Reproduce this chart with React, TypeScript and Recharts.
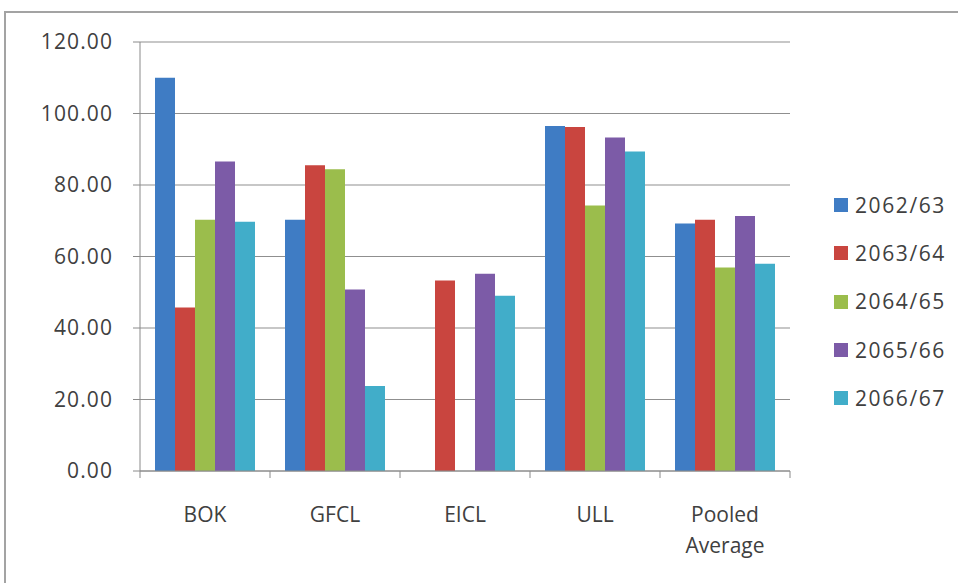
import React from 'react';
import { BarChart, Bar, XAxis, YAxis, CartesianGrid, Legend } from 'recharts';

// Companies compared across fiscal years
const categories = ['BOK', 'GFCL', 'EICL', 'ULL', 'Pooled Average'];
const seriesNames = ['2062/63', '2063/64', '2064/65', '2065/66', '2066/67'];
const seriesColors = ['#3F7CC4', '#C9453F', '#9BBD4C', '#7C5BA7', '#41ADC9'];

const values2062 = [110.0, 70.3, 0, 96.5, 69.2];
const values2063 = [45.7, 85.5, 53.3, 96.2, 70.3];
const values2064 = [70.3, 84.4, 0, 74.3, 56.9];
const values2065 = [86.6, 50.8, 55.2, 93.3, 71.3];
const values2066 = [69.7, 23.8, 49.0, 89.4, 58.0];

const yTicks = [0, 20, 40, 60, 80, 100, 120];

const seriesValues = [values2062, values2063, values2064, values2065, values2066];

const data = categories.map((name, i) => {
  const row: Record<string, string | number> = { name };
  seriesNames.forEach((s, k) => {
    row[s] = seriesValues[k][i];
  });
  return row;
});

const FONT = '"Open Sans", "Liberation Sans", sans-serif';
const TEXT = '#404040';
const AXIS = '#8a8a8a';

// Category label centred in its band, with tick marks on the band edges
const CategoryTick = (props: any) => {
  const { x, y, payload, index, width, visibleTicksCount } = props;
  const band = width / (visibleTicksCount || categories.length);
  const words = String(payload.value).split(' ');
  const isLast = index === (visibleTicksCount || categories.length) - 1;
  return (
    <g>
      <line x1={x - band / 2} x2={x - band / 2} y1={y} y2={y + 7} stroke={AXIS} />
      {isLast && <line x1={x + band / 2} x2={x + band / 2} y1={y} y2={y + 7} stroke={AXIS} />}
      <text x={x} y={y + 51} textAnchor="middle" fill={TEXT} fontSize={21} fontFamily={FONT}>
        {words.map((w, i) => (
          <tspan key={i} x={x} dy={i === 0 ? 0 : 31}>
            {w}
          </tspan>
        ))}
      </text>
    </g>
  );
};

const LegendList = (props: any) => {
  const { payload } = props;
  return (
    <div>
      {(payload || []).map((entry: any, i: number) => (
        <div
          key={i}
          style={{ display: 'flex', alignItems: 'center', height: 48.3 }}
        >
          <span
            style={{
              display: 'inline-block',
              width: 14,
              height: 14,
              background: entry.color,
              marginRight: 7,
            }}
          />
          <span
            style={{
              fontFamily: FONT,
              fontSize: 21,
              letterSpacing: 1.6,
              color: TEXT,
              lineHeight: '21px',
            }}
          >
            {entry.value}
          </span>
        </div>
      ))}
    </div>
  );
};

export default function App() {
  return (
    <div
      style={{
        position: 'absolute',
        left: 0,
        top: 0,
        width: 958,
        height: 583,
        overflow: 'hidden',
        background: '#ffffff',
        fontFamily: FONT,
      }}
    >
      <div
        style={{
          position: 'absolute',
          left: 4,
          top: 11,
          width: 1200,
          height: 1200,
          borderLeft: '2px solid #a3a3a3',
          borderTop: '2px solid #a3a3a3',
        }}
      />
      <BarChart
        width={958}
        height={583}
        data={data}
        margin={{ top: 42, right: 38, bottom: 52, left: 0 }}
        barCategoryGap={15}
        barGap={0}
      >
        <CartesianGrid horizontal vertical={false} stroke="#8f8f8f" />
        <XAxis
          dataKey="name"
          height={60}
          axisLine={{ stroke: AXIS }}
          tickLine={false}
          tickSize={0}
          tickMargin={0}
          interval={0}
          tick={<CategoryTick />}
        />
        <YAxis
          width={140}
          domain={[0, 120]}
          ticks={yTicks}
          interval={0}
          axisLine={{ stroke: AXIS }}
          tickLine={{ stroke: AXIS }}
          tickSize={7}
          tickMargin={20}
          tickFormatter={(v: number) => v.toFixed(2)}
          tick={{ fill: TEXT, fontSize: 21, fontFamily: FONT, letterSpacing: 1.1 }}
        />
        <Legend
          layout="vertical"
          align="right"
          verticalAlign="top"
          content={<LegendList />}
          wrapperStyle={{ left: 834, top: 181, width: 130 }}
        />
        {seriesNames.map((s, k) => (
          <Bar key={s} dataKey={s} fill={seriesColors[k]} isAnimationActive={false} />
        ))}
      </BarChart>
    </div>
  );
}
